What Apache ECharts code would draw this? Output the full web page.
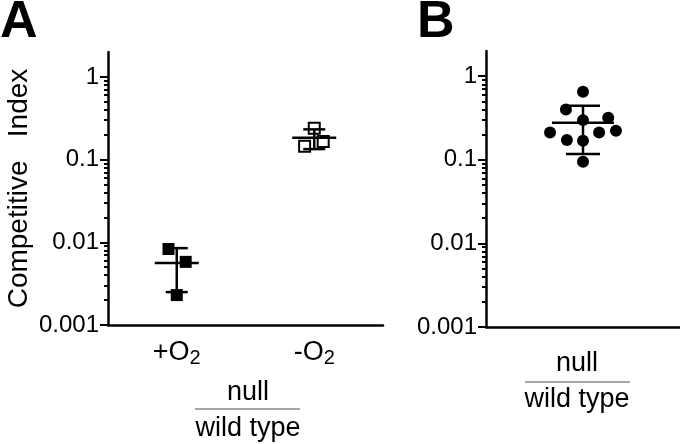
<!DOCTYPE html>
<html>
<head>
<meta charset="utf-8">
<script src="https://cdn.jsdelivr.net/npm/echarts@6/dist/echarts.min.js"></script>
<style>
html,body{margin:0;padding:0;background:#fff;}
#c{width:680px;height:444px;}
</style>
</head>
<body>
<div id="c"></div>
<script>
// ---------- data ----------
const categoriesA = ['+O2', '-O2'];
const categoriesB = ['null/wild type'];
const tickValues = [0.001, 0.01, 0.1, 1];
const tickLabels = ['0.001', '0.01', '0.1', '1'];
const minorTickValues = [
  0.002,0.003,0.004,0.005,0.006,0.007,0.008,0.009,
  0.02,0.03,0.04,0.05,0.06,0.07,0.08,0.09,
  0.2,0.3,0.4,0.5,0.6,0.7,0.8,0.9
];
// Panel A: individual points (value) with horizontal jitter (fraction of category band)
const plusO2Values = [0.0083, 0.0058, 0.0023];
const plusO2Jitter = [-0.06, 0.065, 0];
const minusO2Values = [0.24, 0.165, 0.145];
const minusO2Jitter = [0, 0.065, -0.07];
const meansA = [0.0056, 0.184];
const sdLowA = [0.0025, 0.134];
const sdHighA = [0.0085, 0.232];
// Panel B
const nullValues = [0.649, 0.40, 0.318, 0.298, 0.212, 0.212, 0.222, 0.172, 0.169, 0.0946];
const nullJitter = [0, -0.088, 0.13, 0, -0.17, 0.083, 0.17, -0.083, 0, 0];
const meansB = [0.277];
const sdLowB = [0.117];
const sdHighB = [0.442];
const yTitle = 'Competitive   Index';

// ---------- chart ----------
const FONT = 'Liberation Sans, Arial, sans-serif';
const chart = echarts.init(document.getElementById('c'), null, {renderer: 'canvas'});

function pts(vals, jit, offset) {
  return vals.map((v, i) => [offset + jit[i], v]);
}
function summary(means, lo, hi) {
  return means.map((m, i) => [i, m, lo[i], hi[i]]);
}
function errRender(halfMean, halfCap) {
  return function (params, api) {
    const x = api.value(0);
    const pm = api.coord([x, api.value(1)]);
    const pl = api.coord([x, api.value(2)]);
    const ph = api.coord([x, api.value(3)]);
    const st = {stroke: '#000', lineWidth: 2.5};
    return {
      type: 'group',
      children: [
        {type: 'line', shape: {x1: pm[0] - halfMean, y1: pm[1], x2: pm[0] + halfMean, y2: pm[1]}, style: st},
        {type: 'line', shape: {x1: pl[0], y1: pl[1], x2: ph[0], y2: ph[1]}, style: st},
        {type: 'line', shape: {x1: ph[0] - halfCap, y1: ph[1], x2: ph[0] + halfCap, y2: ph[1]}, style: st},
        {type: 'line', shape: {x1: pl[0] - halfCap, y1: pl[1], x2: pl[0] + halfCap, y2: pl[1]}, style: st}
      ]
    };
  };
}

function yMajor(grid, withName) {
  return {
    type: 'log', gridIndex: grid, min: 0.001, max: 2, logBase: 10, position: 'left',
    axisLine: {show: true, onZero: false, lineStyle: {color: '#000', width: 2.5}},
    axisTick: {show: true, customValues: tickValues, length: 8, lineStyle: {color: '#000', width: 2}},
    axisLabel: {show: true, customValues: tickValues, margin: 9, color: '#000', fontSize: 24, fontFamily: FONT,
      formatter: v => { const i = tickValues.findIndex(t => Math.abs(Math.log10(t) - Math.log10(v)) < 1e-6); return i >= 0 ? tickLabels[i] : ''; }},
    splitLine: {show: false}, minorTick: {show: false},
    name: withName ? yTitle : '', nameLocation: 'middle', nameGap: 75, nameRotate: 90,
    nameTextStyle: {color: '#000', fontSize: 28, fontFamily: FONT}
  };
}
function yMinor(grid) {
  return {
    type: 'log', gridIndex: grid, min: 0.001, max: 2, logBase: 10, position: 'left', offset: 0,
    axisLine: {show: false, onZero: false},
    axisTick: {show: true, customValues: minorTickValues, length: 4, lineStyle: {color: '#000', width: 2}},
    axisLabel: {show: false}, splitLine: {show: false}
  };
}
const subRich = {
  m: {fontSize: 27, fontFamily: FONT, color: '#000'},
  s: {fontSize: 20, fontFamily: FONT, color: '#000', padding: [10, 0, 0, 0]}
};
function catLabel(v) {
  const m = v.match(/^(.*?)(\d)$/);
  return m ? '{m|' + m[1] + '}{s|' + m[2] + '}' : '{m|' + v + '}';
}

const option = {
  backgroundColor: '#fff',
  animation: false,
  grid: [
    {left: 108, top: 52, width: 275, height: 273},
    {left: 486, top: 51, width: 194, height: 276}
  ],
  xAxis: [
    {type: 'category', gridIndex: 0, data: categoriesA, boundaryGap: true,
      axisLine: {onZero: false, lineStyle: {color: '#000', width: 2.5}},
      axisTick: {alignWithLabel: true, length: 8, lineStyle: {color: '#000', width: 2.5}},
      axisLabel: {margin: 13, formatter: catLabel, rich: subRich}},
    {type: 'value', gridIndex: 0, min: -0.5, max: 1.5, show: false},
    {type: 'category', gridIndex: 1, data: categoriesB, boundaryGap: true,
      axisLine: {onZero: false, lineStyle: {color: '#000', width: 2.5}},
      axisTick: {alignWithLabel: true, length: 8, lineStyle: {color: '#000', width: 2.5}},
      axisLabel: {show: false}},
    {type: 'value', gridIndex: 1, min: -0.5, max: 0.5, show: false}
  ],
  yAxis: [yMajor(0, true), yMinor(0), yMajor(1, false), yMinor(1)],
  series: [
    {type: 'scatter', xAxisIndex: 1, yAxisIndex: 0, data: pts(plusO2Values, plusO2Jitter, 0),
      symbol: 'rect', symbolSize: 12, itemStyle: {color: '#000', opacity: 1}, z: 3},
    {type: 'scatter', xAxisIndex: 1, yAxisIndex: 0, data: pts(minusO2Values, minusO2Jitter, 1),
      symbol: 'rect', symbolSize: 11, itemStyle: {color: 'rgba(255,255,255,0)', borderColor: '#000', borderWidth: 2, opacity: 1}, z: 3},
    {type: 'custom', xAxisIndex: 1, yAxisIndex: 0, data: summary(meansA, sdLowA, sdHighA),
      encode: {x: 0, y: 1}, renderItem: errRender(22, 11), z: 4},
    {type: 'scatter', xAxisIndex: 3, yAxisIndex: 2, data: pts(nullValues, nullJitter, 0),
      symbol: 'circle', symbolSize: 12, itemStyle: {color: '#000', opacity: 1}, z: 3},
    {type: 'custom', xAxisIndex: 3, yAxisIndex: 2, data: summary(meansB, sdLowB, sdHighB),
      encode: {x: 0, y: 1}, renderItem: errRender(31, 17), z: 4}
  ],
  graphic: [
    {type: 'text', left: 0, top: -3, style: {text: 'A', fontSize: 52, fontWeight: 'bold', fontFamily: FONT, fill: '#000'}},
    {type: 'text', left: 417, top: -3, style: {text: 'B', fontSize: 52, fontWeight: 'bold', fontFamily: FONT, fill: '#000'}},
    // fraction labels A
    {type: 'text', x: 248, y: 393, style: {text: 'null', fontSize: 27, fontFamily: FONT, fill: '#000', align: 'center', verticalAlign: 'middle'}},
    {type: 'line', shape: {x1: 195, y1: 409, x2: 300, y2: 409}, style: {stroke: '#888', lineWidth: 1.5}},
    {type: 'text', x: 248, y: 429, style: {text: 'wild type', fontSize: 27, fontFamily: FONT, fill: '#000', align: 'center', verticalAlign: 'middle'}},
    // fraction labels B
    {type: 'text', x: 577, y: 364, style: {text: 'null', fontSize: 27, fontFamily: FONT, fill: '#000', align: 'center', verticalAlign: 'middle'}},
    {type: 'line', shape: {x1: 525, y1: 382, x2: 630, y2: 382}, style: {stroke: '#888', lineWidth: 1.5}},
    {type: 'text', x: 577, y: 400, style: {text: 'wild type', fontSize: 27, fontFamily: FONT, fill: '#000', align: 'center', verticalAlign: 'middle'}}
  ]
};
chart.setOption(option);
</script>
</body>
</html>
